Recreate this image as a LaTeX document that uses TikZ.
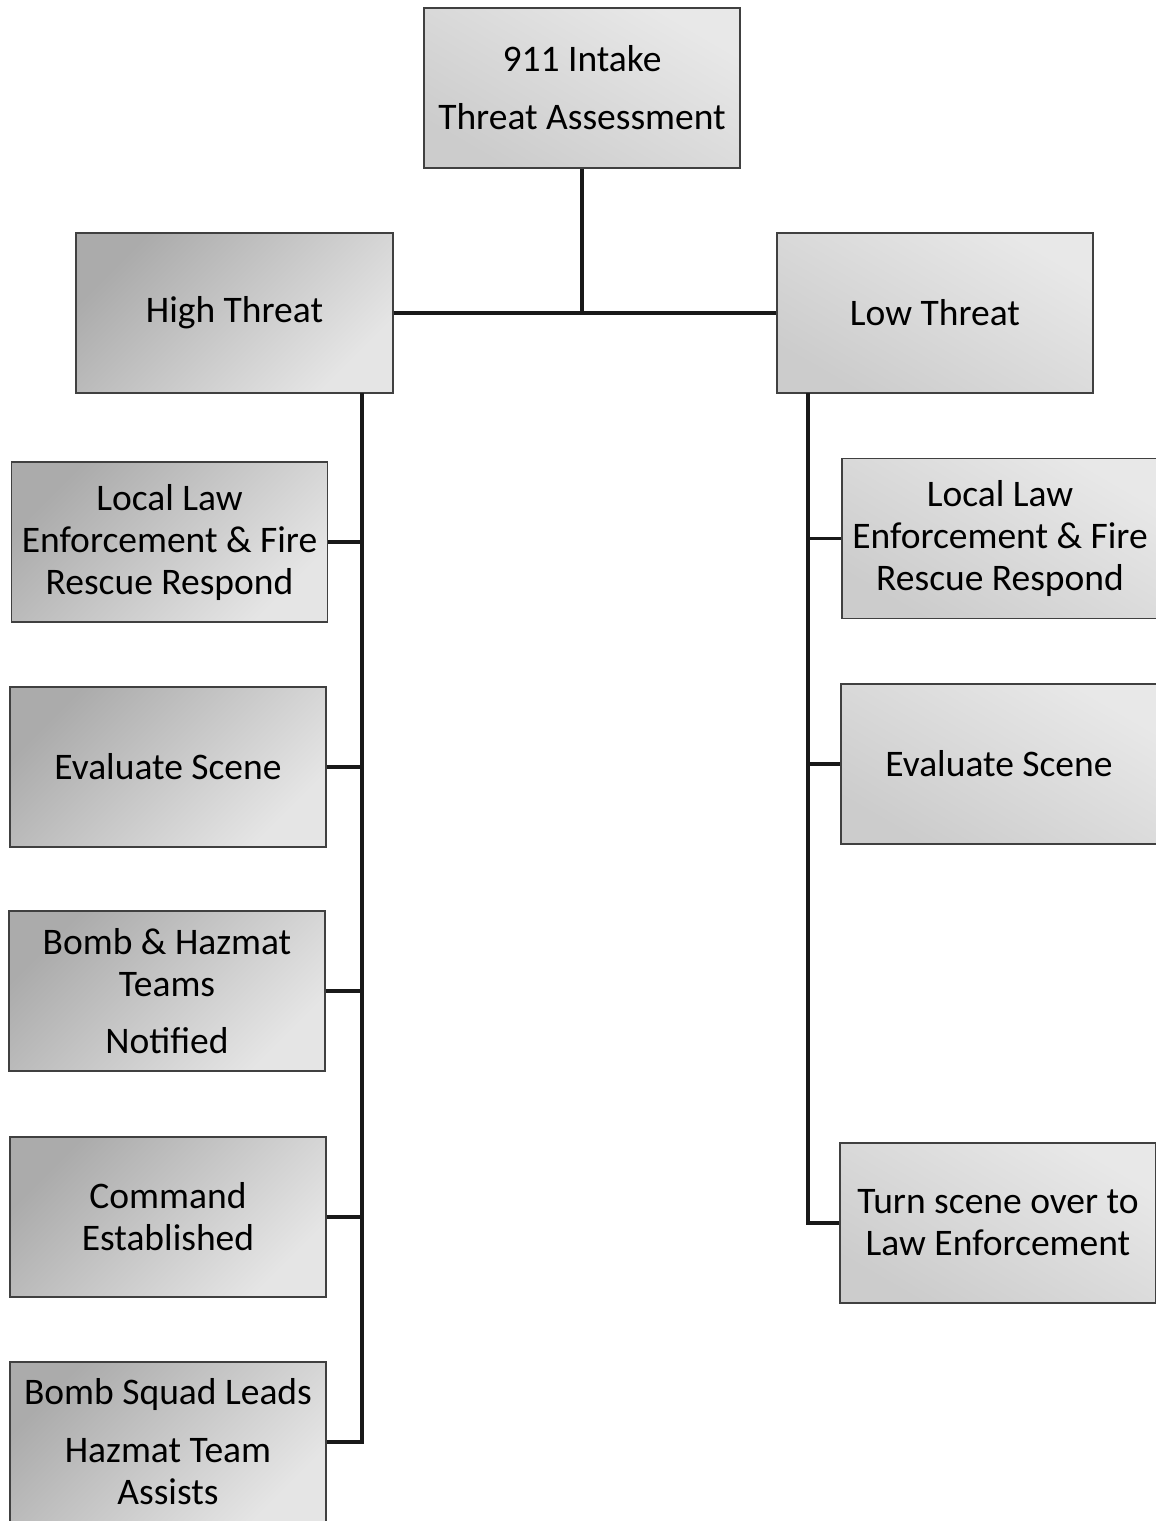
\documentclass[tikz,border=0pt]{standalone}
\usepackage{fontspec}
\setmainfont{Carlito}
\begin{document}
\begin{tikzpicture}[x=1pt,y=-1pt,
  box/.style={draw=black!75, line width=1.4pt, minimum width=316pt, minimum height=160pt,
    inner sep=0pt, align=center, font=\fontsize{37.5}{42}\selectfont},
  hibox/.style={box, top color=black!33, bottom color=black!10, shading angle=45},
  lobox/.style={box, top color=black!9, bottom color=black!20, shading angle=-30},
  conn/.style={line width=3.2pt, black!90}]
\useasboundingbox (0,0) rectangle (1156,1521);
\fill[white] (0,0) rectangle (1156,1521);
\clip (0,0) rectangle (1156,1521);
% nodes
\node[lobox] (top) at (582,88) {911 Intake\\[16pt]Threat Assessment};
\node[hibox, minimum width=317pt] (high) at (234.5,313) {High Threat};
\node[lobox] (low) at (935,313) {Low Threat};
\node[hibox] (l1) at (169.5,542) {Local Law\\Enforcement \& Fire\\Rescue Respond};
\node[hibox] (l2) at (168,767) {Evaluate Scene};
\node[hibox] (l3) at (167,991) {Bomb \& Hazmat\\Teams\\[15pt]Notified};
\node[hibox] (l4) at (168,1217) {Command\\Established};
\node[hibox] (l5) at (168,1442) {Bomb Squad Leads\\[16pt]Hazmat Team\\Assists};
\node[lobox] (r1) at (1000,538.5) {Local Law\\Enforcement \& Fire\\Rescue Respond};
\node[lobox] (r2) at (999,764) {Evaluate Scene};
\node[lobox] (r3) at (998,1223) {Turn scene over to\\Law Enforcement};
% connectors
\coordinate (ltop) at (362,393);
\coordinate (rtop) at (808,393);
\draw[conn] (top.south) -- (top.south |- high.east);
\draw[conn] (high.east) -- (low.west);
\draw[conn] (ltop) |- (l5.east);
\draw[conn] (l1.east) -- (l1.east -| ltop);
\draw[conn] (l2.east) -- (l2.east -| ltop);
\draw[conn] (l3.east) -- (l3.east -| ltop);
\draw[conn] (l4.east) -- (l4.east -| ltop);
\draw[conn] (rtop) |- (r3.west);
\draw[conn] (r1.west) -- (r1.west -| rtop);
\draw[conn] (r2.west) -- (r2.west -| rtop);
\end{tikzpicture}
\end{document}
